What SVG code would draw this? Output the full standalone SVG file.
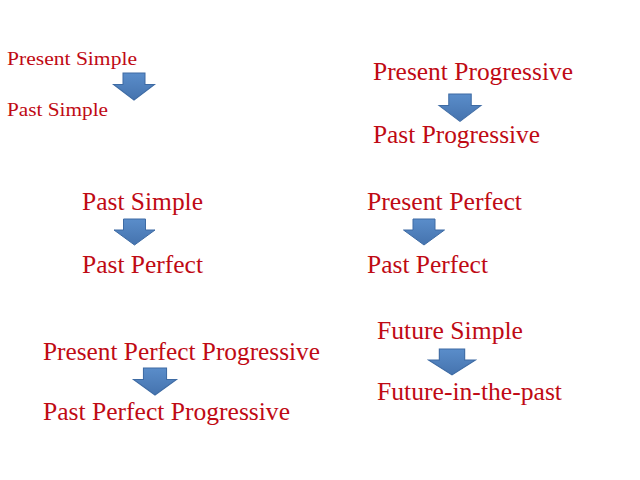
<svg xmlns="http://www.w3.org/2000/svg" xmlns:xlink="http://www.w3.org/1999/xlink" width="640" height="480" viewBox="0 0 640 480">
  <style>
    .t { font-family: "Liberation Serif", "Times New Roman", serif; fill: #BF0A14; font-size: 25px; }
    .s { font-size: 19px; }
    .arrow { fill: url(#ag); stroke: #3E6BA4; stroke-width: 1; stroke-linejoin: miter; }
  </style>
  <defs>
    <linearGradient id="ag" x1="0" y1="0" x2="0" y2="1">
      <stop offset="0" stop-color="#5A8DCA"/>
      <stop offset="1" stop-color="#4573AE"/>
    </linearGradient>
    <path id="arr" d="M -11 0 L 11 0 L 11 11 L 20.5 11 L 0 26 L -20.5 11 L -11 11 Z"/>
  </defs>
  <rect width="640" height="480" fill="#ffffff"/>

  <g id="connectors">
    <use xlink:href="#arr" class="arrow" transform="translate(134,73) scale(1,1.04)"/>
    <use xlink:href="#arr" class="arrow" transform="translate(460,94) scale(1.02,1.05)"/>
    <use xlink:href="#arr" class="arrow" transform="translate(134.5,219)"/>
    <use xlink:href="#arr" class="arrow" transform="translate(424,219)"/>
    <use xlink:href="#arr" class="arrow" transform="translate(155,368) scale(1.05,1.04)"/>
    <use xlink:href="#arr" class="arrow" transform="translate(452,349) scale(1.15,1.0)"/>
  </g>

  <g id="n-present-simple"><text class="t s" x="7" y="65" textLength="130" lengthAdjust="spacingAndGlyphs">Present Simple</text></g>
  <g id="n-past-simple-1"><text class="t s" x="7" y="116" textLength="101" lengthAdjust="spacingAndGlyphs">Past Simple</text></g>

  <g id="n-present-progressive"><text class="t" x="373" y="80" textLength="200" lengthAdjust="spacingAndGlyphs">Present Progressive</text></g>
  <g id="n-past-progressive"><text class="t" x="373" y="143" textLength="167" lengthAdjust="spacingAndGlyphs">Past Progressive</text></g>

  <g id="n-past-simple-2"><text class="t" x="82" y="210" textLength="121" lengthAdjust="spacingAndGlyphs">Past Simple</text></g>
  <g id="n-past-perfect-1"><text class="t" x="82" y="273" textLength="121" lengthAdjust="spacingAndGlyphs">Past Perfect</text></g>

  <g id="n-present-perfect"><text class="t" x="367" y="210" textLength="155" lengthAdjust="spacingAndGlyphs">Present Perfect</text></g>
  <g id="n-past-perfect-2"><text class="t" x="367" y="273" textLength="121" lengthAdjust="spacingAndGlyphs">Past Perfect</text></g>

  <g id="n-future-simple"><text class="t" x="377" y="339" textLength="146" lengthAdjust="spacingAndGlyphs">Future Simple</text></g>
  <g id="n-future-in-the-past"><text class="t" x="377" y="400" textLength="185" lengthAdjust="spacingAndGlyphs">Future-in-the-past</text></g>

  <g id="n-present-perfect-progressive"><text class="t" x="43" y="360" textLength="277" lengthAdjust="spacingAndGlyphs">Present Perfect Progressive</text></g>
  <g id="n-past-perfect-progressive"><text class="t" x="43" y="420" textLength="247" lengthAdjust="spacingAndGlyphs">Past Perfect Progressive</text></g>
</svg>
